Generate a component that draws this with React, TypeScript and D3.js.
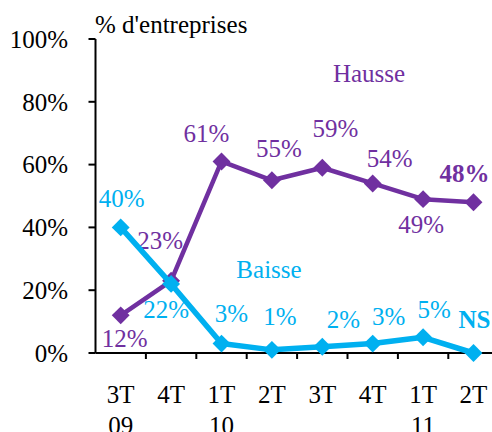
import React from "react";
import * as d3 from "d3";

const categories = ["3T 09", "4T", "1T 10", "2T", "3T", "4T", "1T 11", "2T"];
const hausse = [12, 23, 61, 55, 59, 54, 49, 48];
const baisse = [40, 22, 3, 1, 2, 3, 5, 0];
const hausseLabels = ["12%", "23%", "61%", "55%", "59%", "54%", "49%", "48%"];
const baisseLabels = ["40%", "22%", "3%", "1%", "2%", "3%", "5%", "NS"];
const yTicks = [0, 20, 40, 60, 80, 100];

// label placement offsets (dx, dy to baseline) relative to each point
const hausseOff: [number, number][] = [[4, 32], [-11, -32], [-15, -19], [7, -23], [13, -31], [17, -16], [-2, 34], [-9, -20]];
const baisseOff: [number, number][] = [[1, -20], [-5, 34], [10, -22], [8, -25], [21, -19], [16, -19], [11, -19], [1, -25]];

const W = 492, H = 432;
const PURPLE = "#7030A0";
const CYAN = "#00B0F0";
const FONT = "Liberation Serif, Times New Roman, serif";

export default function App() {
  const x0 = 95.5;
  const step = 50.4;
  const idx = categories.map((_, i) => String(i));
  const x = d3.scaleBand<string>().domain(idx).range([x0, x0 + step * categories.length]).padding(0);
  const y = d3.scaleLinear().domain([0, 100]).range([353, 39]);
  const cx = (i: number) => (x(String(i)) as number) + x.bandwidth() / 2;

  const line = d3.line<number>().x((_, i) => cx(i)).y((d) => y(d));
  const diamond = d3.symbol().type(d3.symbolSquare).size(160)() as string;

  const series = [
    { vals: hausse, labels: hausseLabels, off: hausseOff, color: PURPLE, width: 4.5 },
    { vals: baisse, labels: baisseLabels, off: baisseOff, color: CYAN, width: 5.5 },
  ];
  const ts = { fontFamily: FONT, fontSize: 25 };

  return (
    <svg width={W} height={H} style={{ position: "absolute", left: 0, top: 0, background: "#fff", fontFamily: FONT }}>
      <text x={95} y={33} style={ts} fill="#000">% d'entreprises</text>
      {/* y axis */}
      <line x1={x0} x2={x0} y1={y(100)} y2={y(0)} stroke="#000" strokeWidth={2} />
      {yTicks.map((t) => (
        <g key={t}>
          <line x1={x0 - 7} x2={x0} y1={y(t)} y2={y(t)} stroke="#000" strokeWidth={2} />
          <text x={68} y={y(t)} dy="0.35em" textAnchor="end" style={ts} fill="#000">{t}%</text>
        </g>
      ))}
      {/* x axis */}
      <line x1={x0} x2={W + 10} y1={y(0)} y2={y(0)} stroke="#000" strokeWidth={2} />
      {categories.map((c, i) => (
        <line key={i} x1={(x(String(i)) as number) + step} x2={(x(String(i)) as number) + step} y1={y(0)} y2={y(0) + 6} stroke="#000" strokeWidth={2} />
      ))}
      {categories.map((c, i) => {
        const [a, b] = c.split(" ");
        return (
          <text key={i} x={cx(i)} y={403} textAnchor="middle" style={ts} fill="#000">
            <tspan x={cx(i)}>{a}</tspan>
            {b && <tspan x={cx(i)} y={434}>{b}</tspan>}
          </text>
        );
      })}
      {series.map((s, si) => (
        <g key={si}>
          <path d={line(s.vals) as string} fill="none" stroke={s.color} strokeWidth={s.width} strokeLinejoin="round" />
          {s.vals.map((v, i) => (
            <path key={i} d={diamond} transform={`translate(${cx(i)},${y(v)}) rotate(45)`} fill={s.color} />
          ))}
          {s.vals.map((v, i) => (
            <text key={"l" + i} x={cx(i) + s.off[i][0]} y={y(v) + s.off[i][1]} textAnchor="middle" style={ts}
              fontWeight={i === s.vals.length - 1 ? "bold" : "normal"} fill={s.color}>{s.labels[i]}</text>
          ))}
        </g>
      ))}
      <text x={369} y={82} textAnchor="middle" style={ts} fill={PURPLE}>Hausse</text>
      <text x={269} y={278} textAnchor="middle" style={ts} fill={CYAN}>Baisse</text>
    </svg>
  );
}
